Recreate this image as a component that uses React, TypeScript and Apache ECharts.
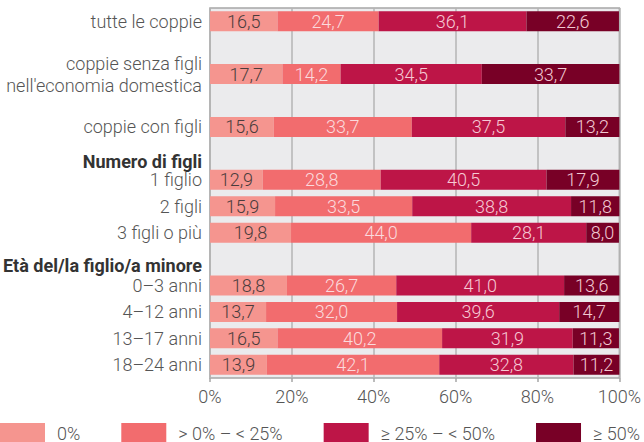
import React, { useEffect, useRef } from "react";
import * as echarts from "echarts";

const categories = [
  "tutte le coppie",
  "",
  "coppie senza figli\nnell'economia domestica",
  "",
  "coppie con figli",
  "#Numero di figli",
  "1 figlio",
  "2 figli",
  "3 figli o più",
  "#Età del/la figlio/a minore",
  "0–3 anni",
  "4–12 anni",
  "13–17 anni",
  "18–24 anni",
];

const seriesNames = ["0%", "> 0% – < 25%", "≥ 25% – < 50%", "≥ 50%"];
const s0 = [16.5, null, 17.7, null, 15.6, null, 12.9, 15.9, 19.8, null, 18.8, 13.7, 16.5, 13.9];
const s1 = [24.7, null, 14.2, null, 33.7, null, 28.8, 33.5, 44.0, null, 26.7, 32.0, 40.2, 42.1];
const s2 = [36.1, null, 34.5, null, 37.5, null, 40.5, 38.8, 28.1, null, 41.0, 39.6, 31.9, 32.8];
const s3 = [22.6, null, 33.7, null, 13.2, null, 17.9, 11.8, 8.0, null, 13.6, 14.7, 11.3, 11.2];
const xTicks = [0, 20, 40, 60, 80, 100];

const colors = ["#F5958F", "#F26C6E", "#BD1547", "#780026"];
const labelColors = ["#4a3c3c", "#FBDADD", "#F6C9D4", "#F2C9D2"];
const FONT = "Roboto";
const FS = 18;

export default function App() {
  const ref = useRef<HTMLDivElement>(null);
  useEffect(() => {
    if (!ref.current) return;
    const chart = echarts.init(ref.current, null, { renderer: "svg" });
    const all = [s0, s1, s2, s3];
    chart.setOption({
      animation: false,
      textStyle: { fontFamily: FONT },
      grid: {
        left: 209,
        right: 23,
        top: 8,
        bottom: 64,
        show: true,
        backgroundColor: "#EBEBED",
        borderColor: "#A6A6A6",
        borderWidth: 1.5,
      },
      legend: {
        left: 0,
        top: 423,
        width: 644,
        padding: 0,
        itemWidth: 45,
        itemHeight: 20,
        itemGap: 41,
        icon: "rect",
        selectedMode: false,
        data: seriesNames,
        textStyle: {
          fontFamily: FONT,
          fontWeight: 300,
          fontSize: FS,
          color: "#555",
          padding: [0, 0, 0, 7],
        },
      },
      xAxis: {
        type: "value",
        min: xTicks[0],
        max: xTicks[xTicks.length - 1],
        interval: 20,
        axisLine: { show: false },
        axisTick: { show: true, length: 4, lineStyle: { color: "#A6A6A6", width: 1.5 } },
        splitLine: { show: true, lineStyle: { color: "#B4B4B4", width: 1.5 } },
        axisLabel: {
          formatter: "{value}%",
          color: "#555",
          fontSize: FS,
          fontWeight: 300,
          fontFamily: FONT,
          margin: 9,
        },
      },
      yAxis: {
        type: "category",
        inverse: true,
        data: categories,
        axisLine: { show: false },
        axisTick: { show: false },
        axisLabel: {
          interval: 0,
          margin: 8,
          color: "#555",
          fontSize: FS,
          fontWeight: 300,
          fontFamily: FONT,
          lineHeight: 22,
          formatter: (v: string, i: number) => {
            if (v.startsWith("#")) {
              return i === 5 ? `{h1|${v.slice(1)}}` : `{h2|${v.slice(1)}}`;
            }
            return v;
          },
          rich: {
            h1: {
              fontWeight: "bold",
              fontSize: FS,
              color: "#333",
              fontFamily: FONT,
              lineHeight: 22,
              padding: [16, 0, 0, 0],
            },
            h2: {
              fontWeight: "bold",
              fontSize: FS,
              color: "#333",
              fontFamily: FONT,
              lineHeight: 22,
              padding: [12, 0, 0, 0],
            },
          },
        },
      },
      series: all.map((d, k) => ({
        name: seriesNames[k],
        type: "bar",
        stack: "total",
        barWidth: 20,
        data: d,
        itemStyle: { color: colors[k] },
        label: {
          show: true,
          position: "inside",
          color: labelColors[k],
          fontSize: FS,
          fontWeight: 300,
          fontFamily: FONT,
          formatter: (p: any) =>
            p.value == null ? "" : Number(p.value).toFixed(1).replace(".", ","),
        },
      })),
    });
    return () => chart.dispose();
  }, []);
  return (
    <div
      ref={ref}
      style={{ position: "absolute", left: 0, top: 0, width: 644, height: 442 }}
    />
  );
}
